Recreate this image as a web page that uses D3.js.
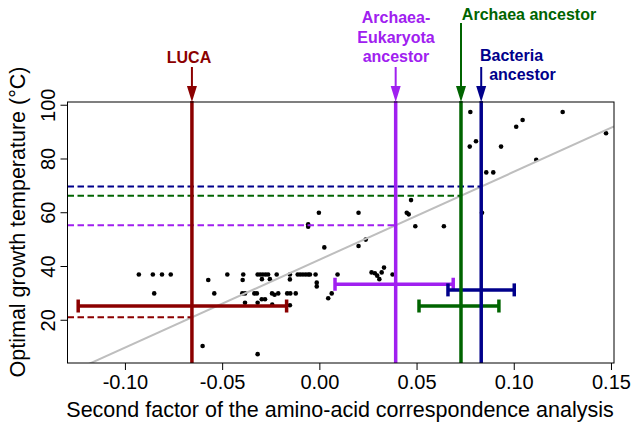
<!DOCTYPE html>
<html>
<head>
<meta charset="utf-8">
<script src="https://cdn.jsdelivr.net/npm/d3@7"></script>
<style>
body { margin: 0; background: #fff; }
text { font-family: 'Liberation Sans', Arial, Helvetica, sans-serif; }
</style>
</head>
<body>
<script>
// organisms: second CA factor vs optimal growth temperature
var factor2 = [
	-0.0931, -0.0859, -0.0812, -0.0767, -0.0852
	, -0.0603, -0.0574, -0.0543, -0.0476, -0.0394, -0.0397, -0.0399, -0.0385, -0.0385
	, -0.0320, -0.0307, -0.0293, -0.0279, -0.0266
	, -0.0298, -0.0257
	, -0.0337, -0.0324, -0.0320, -0.0299, -0.0282, -0.0320
	, -0.0246, -0.0233, -0.0214, -0.0245, -0.0222
	, -0.0168, -0.0152, -0.0154, -0.0154, -0.0154, -0.0124
	, -0.0114, -0.0101, -0.0087, -0.0073, -0.0060, -0.0051
	, -0.0022, -0.0016, -0.0016, -0.0060, -0.0060, -0.0005
	, 0.0023, 0.0043, 0.0061, 0.0091, 0.0199, 0.0199, 0.0236
	, 0.0266, 0.0283, 0.0295, 0.0306, 0.0318, 0.0330, 0.0374
	, 0.0447, 0.0457, 0.0469, 0.0491, 0.0638
	, 0.0774, 0.0803, 0.0771, 0.0834, 0.0856, 0.0892, 0.0932
	, 0.1010, 0.1043, 0.1113, 0.1249, 0.1472
];
var optTemp = [
	37, 37, 37, 37, 30
	, 10.4, 35, 30, 37, 37, 35, 30, 30, 26.5
	, 37, 37, 37, 37, 37
	, 35.3, 35.3
	, 30, 30, 26.5, 27.8, 27.8, 7.4
	, 30, 29.5, 30, 25.8, 37
	, 30, 30, 37, 35.2, 25.6, 30
	, 37, 37, 37, 37, 37, 37
	, 37, 34, 32.6, 55.7, 54.8, 60
	, 47.1, 28.2, 30, 37, 60, 47.6, 50
	, 37.8, 37.5, 36.6, 35.3, 37.8, 39.6, 37
	, 60, 59.4, 64.7, 55, 55
	, 97.5, 86.6, 84.6, 60, 75, 75, 84.6
	, 92, 94.5, 79.7, 97.5, 89.6
];

// linear regression of temperature on factor 2
var regIntercept = 42.6;
var regSlope = 327;

// ancestors
var ancestorNames = ['LUCA', 'Archaea-Eukaryota ancestor', 'Archaea ancestor', 'Bacteria ancestor'];
var ancestorFactor = [-0.0658, 0.0390, 0.0726, 0.0830];
var ciLow = [-0.1243, 0.0078, 0.0510, 0.0659];
var ciHigh = [-0.0171, 0.0686, 0.0921, 0.1000];
var ciTemp = [25.3, 33.4, 25.3, 31.3];

var xTicks = [-0.10, -0.05, 0.00, 0.05, 0.10, 0.15];
var yTicks = [20, 40, 60, 80, 100];

var colors = ['#8b0000', '#a020f0', '#006400', '#00008b'];

var pLeft = 67.5, pRight = 614, pTop = 102, pBottom = 363;

var x = d3.scaleLinear().domain([-0.1298, 0.1513]).range([pLeft, pRight]);
var y = d3.scaleLinear().domain([4.1, 101.2]).range([pBottom, pTop]);

var svg = d3.select('body').append('svg')
	.attr('width', 636)
	.attr('height', 426);

svg.append('defs').append('clipPath')
	.attr('id', 'plot-clip')
	.append('rect')
	.attr('x', pLeft).attr('y', pTop)
	.attr('width', pRight - pLeft).attr('height', pBottom - pTop);

var ancestors = ancestorNames.map(function(n, i) {
	return {name: n, f: ancestorFactor[i], lo: ciLow[i], hi: ciHigh[i], t: ciTemp[i], color: colors[i]};
});

// points
svg.append('g')
	.selectAll('circle')
	.data(factor2.map(function(f, i) { return {f: f, t: optTemp[i]}; }))
	.enter()
	.append('circle')
	.attr('cx', function(d) { return x(d.f); })
	.attr('cy', function(d) { return y(d.t); })
	.attr('r', 2.3)
	.style('fill', 'black');

// regression line
var plot = svg.append('g').attr('clip-path', 'url(#plot-clip)');
plot.append('line')
	.attr('x1', x(-0.1298)).attr('y1', y(regIntercept + regSlope * -0.1298))
	.attr('x2', x(0.1513)).attr('y2', y(regIntercept + regSlope * 0.1513))
	.style('stroke', '#bebebe')
	.style('stroke-width', 2);

// dashed projections to the y axis
plot.selectAll('.proj')
	.data(ancestors)
	.enter()
	.append('line')
	.attr('class', 'proj')
	.attr('x1', pLeft)
	.attr('x2', function(d) { return x(d.f); })
	.attr('y1', function(d) { return y(regIntercept + regSlope * d.f); })
	.attr('y2', function(d) { return y(regIntercept + regSlope * d.f); })
	.style('stroke', function(d) { return d.color; })
	.style('stroke-width', 2)
	.style('stroke-dasharray', '6.5,3.5');

// confidence bars
var bars = svg.append('g')
	.selectAll('g')
	.data(ancestors)
	.enter()
	.append('g')
	.style('stroke', function(d) { return d.color; })
	.style('stroke-width', 3.5);
bars.append('line')
	.attr('x1', function(d) { return x(d.lo); })
	.attr('x2', function(d) { return x(d.hi); })
	.attr('y1', function(d) { return y(d.t); })
	.attr('y2', function(d) { return y(d.t); });
bars.append('line')
	.attr('x1', function(d) { return x(d.lo); })
	.attr('x2', function(d) { return x(d.lo); })
	.attr('y1', function(d) { return y(d.t) - 6.5; })
	.attr('y2', function(d) { return y(d.t) + 6.5; });
bars.append('line')
	.attr('x1', function(d) { return x(d.hi); })
	.attr('x2', function(d) { return x(d.hi); })
	.attr('y1', function(d) { return y(d.t) - 6.5; })
	.attr('y2', function(d) { return y(d.t) + 6.5; });

// vertical ancestor lines
svg.append('g')
	.selectAll('line')
	.data(ancestors)
	.enter()
	.append('line')
	.attr('x1', function(d) { return x(d.f); })
	.attr('x2', function(d) { return x(d.f); })
	.attr('y1', pTop - 1)
	.attr('y2', pBottom)
	.style('stroke', function(d) { return d.color; })
	.style('stroke-width', 3.5);

// frame
svg.append('rect')
	.attr('x', pLeft).attr('y', pTop)
	.attr('width', pRight - pLeft).attr('height', pBottom - pTop)
	.style('fill', 'none')
	.style('stroke', 'black')
	.style('stroke-width', 1);

// x axis
var xAxis = svg.append('g');
xAxis.selectAll('line')
	.data(xTicks)
	.enter()
	.append('line')
	.attr('x1', function(d) { return x(d); })
	.attr('x2', function(d) { return x(d); })
	.attr('y1', pBottom)
	.attr('y2', pBottom + 7)
	.style('stroke', 'black');
xAxis.selectAll('text')
	.data(xTicks)
	.enter()
	.append('text')
	.attr('x', function(d) { return x(d); })
	.attr('y', 389)
	.attr('text-anchor', 'middle')
	.style('font-size', '20px')
	.text(function(d) { return d3.format('.2f')(d).replace('\u2212', '-'); });

// y axis
var yAxis = svg.append('g');
yAxis.selectAll('line')
	.data(yTicks)
	.enter()
	.append('line')
	.attr('x1', pLeft - 7)
	.attr('x2', pLeft)
	.attr('y1', function(d) { return y(d); })
	.attr('y2', function(d) { return y(d); })
	.style('stroke', 'black');
yAxis.selectAll('text')
	.data(yTicks)
	.enter()
	.append('text')
	.attr('transform', function(d) { return 'translate(55,' + y(d) + ') rotate(-90)'; })
	.attr('text-anchor', 'middle')
	.style('font-size', '20px')
	.text(function(d) { return d; });

svg.append('text')
	.attr('x', 340).attr('y', 416.5)
	.attr('text-anchor', 'middle')
	.style('font-size', '21.5px')
	.text('Second factor of the amino-acid correspondence analysis');

svg.append('text')
	.attr('transform', 'translate(25,222) rotate(-90)')
	.attr('text-anchor', 'middle')
	.style('font-size', '21.5px')
	.text('Optimal growth temperature (\u00b0C)');

// arrows and labels above the frame
var arrowTop = [67, 67, 23, 67];
var labelSpecs = [
	{lines: ['LUCA'], x: 189, y: [63.3]}
	, {lines: ['Archaea-', 'Eukaryota', 'ancestor'], x: 396, y: [23.3, 42.5, 61.7]}
	, {lines: ['Archaea ancestor'], x: 529, y: [20]}
	, {lines: ['Bacteria', 'ancestor'], x: [511.5, 522.5], y: [60.7, 80]}
];

ancestors.forEach(function(d, i) {
	var ax = x(d.f);
	svg.append('line')
		.attr('x1', ax).attr('x2', ax)
		.attr('y1', arrowTop[i]).attr('y2', pTop - 12)
		.style('stroke', d.color)
		.style('stroke-width', 2);
	svg.append('path')
		.attr('d', 'M' + (ax - 5) + ' ' + (pTop - 16) + 'L' + (ax + 5) + ' ' + (pTop - 16) + 'L' + ax + ' ' + pTop + 'Z')
		.style('fill', d.color);
	var spec = labelSpecs[i];
	spec.lines.forEach(function(t, j) {
		svg.append('text')
			.attr('x', Array.isArray(spec.x) ? spec.x[j] : spec.x)
			.attr('y', spec.y[j])
			.attr('text-anchor', 'middle')
			.style('font-size', '16px')
			.style('font-weight', 'bold')
			.style('fill', d.color)
			.text(t);
	});
});
</script>
</body>
</html>
